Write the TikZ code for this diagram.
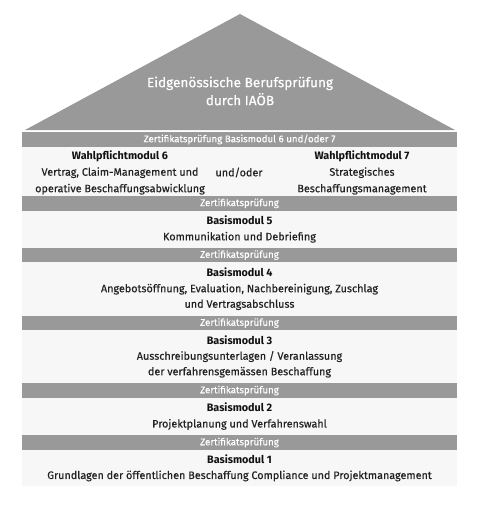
\documentclass[tikz,border=0pt]{standalone}
\usepackage{fontspec}
\setmainfont{Fira Sans}[UprightFeatures={FakeBold=0.35}]
\definecolor{bargray}{HTML}{999999}
\definecolor{pale}{HTML}{F7F7F7}
\definecolor{txt}{HTML}{222222}
\definecolor{boldtxt}{HTML}{111111}
\begin{document}
\begin{tikzpicture}[x=1pt,y=-1pt,
  bar/.style={fill=bargray,text=white,minimum width=435pt,inner sep=0pt,font=\fontsize{9.7}{12}\selectfont},
  panel/.style={fill=pale,text=txt,minimum width=435pt,inner sep=0pt,align=center,font=\fontsize{10.8}{15.5}\selectfont},
  plain/.style={text=txt,inner sep=0pt,align=center,font=\fontsize{10.8}{16.5}\selectfont},
]
\useasboundingbox (0,0) rectangle (483,511);
\newcommand{\hd}[1]{\textbf{\color{boldtxt}#1}}
% roof
\fill[bargray] (240,14) -- (455,130) -- (25,130) -- cycle;
\node[text=white,align=center,font=\fontsize{13.6}{18}\selectfont] (title) at (240,91) {Eidgenössische Berufsprüfung\\durch IAÖB};
% bars and panels
\node[bar,minimum height=14.7pt] (z1) at (239.5,139.35) {Zertifikatsprüfung Basismodul 6 und/oder 7};
\node[panel,minimum height=49.3pt] (wahl) at (239.5,171.35) {};
\node[plain] (w6) at (120,172.5) {\hd{Wahlpflichtmodul 6}\\Vertrag, Claim-Management und\\operative Beschaffungsabwicklung};
\node[plain] (uo) at (239,172.5) {und/oder};
\node[plain] (w7) at (362,172.5) {\hd{Wahlpflichtmodul 7}\\Strategisches\\Beschaffungsmanagement};
\node[bar,minimum height=14.7pt] (z2) at (239.5,203.35) {Zertifikatsprüfung};
\node[panel,minimum height=37.3pt] (b5) at (239.5,229.35) {\hd{Basismodul 5}\\Kommunikation und Debriefing};
\node[bar,minimum height=14pt] (z3) at (239.5,255) {Zertifikatsprüfung};
\node[panel,minimum height=54pt] (b4) at (239.5,289) {\hd{Basismodul 4}\\Angebotsöffnung, Evaluation, Nachbereinigung, Zuschlag\\und Vertragsabschluss};
\node[bar,minimum height=14pt] (z4) at (239.5,323) {Zertifikatsprüfung};
\node[panel,minimum height=53pt] (b3) at (239.5,356.5) {\hd{Basismodul 3}\\Ausschreibungsunterlagen / Veranlassung\\der verfahrensgemässen Beschaffung};
\node[bar,minimum height=15pt] (z5) at (239.5,390.5) {Zertifikatsprüfung};
\node[panel,minimum height=37pt] (b2) at (239.5,416.5) {\hd{Basismodul 2}\\Projektplanung und Verfahrenswahl};
\node[bar,minimum height=15pt] (z6) at (239.5,442.5) {Zertifikatsprüfung};
\node[panel,minimum height=36pt] (b1) at (239.5,468) {\hd{Basismodul 1}\\Grundlagen der öffentlichen Beschaffung Compliance und Projektmanagement};
\end{tikzpicture}
\end{document}
